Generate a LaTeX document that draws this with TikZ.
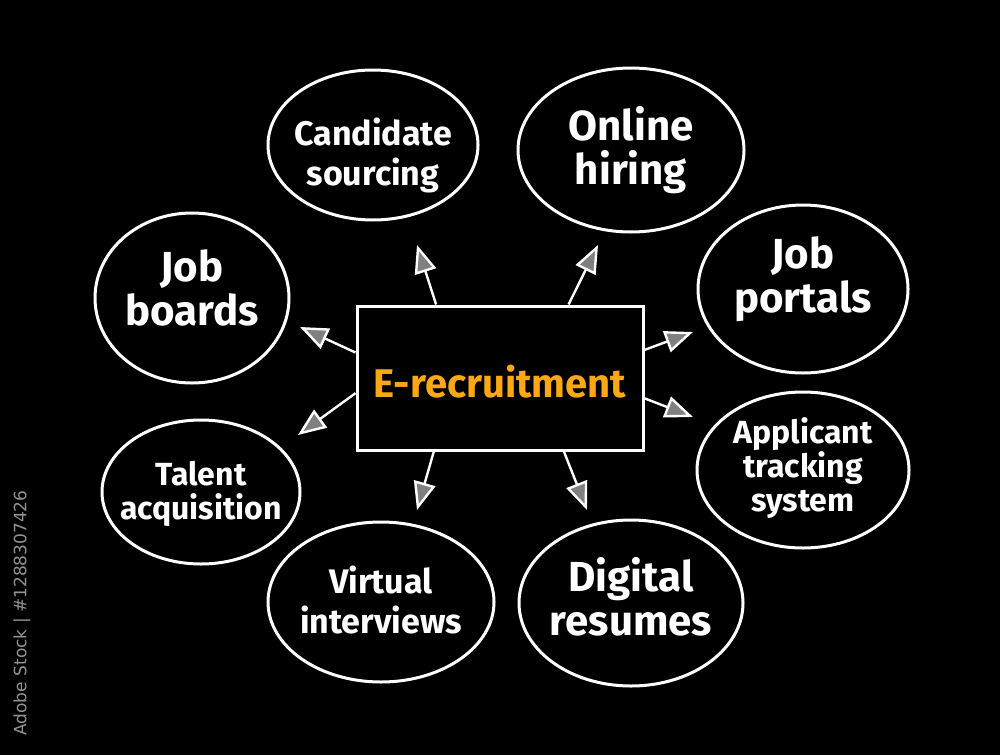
\documentclass[tikz,border=0pt]{standalone}
\usepackage{fontspec}
\setmainfont{Fira Sans}
\newfontfamily\markfont{DejaVu Sans}
\usetikzlibrary{shapes.geometric}
\usetikzlibrary{arrows.meta}

\definecolor{hubtext}{RGB}{250,168,20}

\begin{document}
\begin{tikzpicture}[x=0.5pt, y=-0.5pt,
 bubble/.style={draw=white, line width=1.5pt, ellipse, inner sep=0pt},
 bigtext/.style={text=white, align=center, font=\bfseries\fontsize{21}{22}\selectfont},
 midtext/.style={text=white, align=center, font=\bfseries\fontsize{17}{20}\selectfont},
 smalltext/.style={text=white, align=center, font=\bfseries\fontsize{16}{17}\selectfont},
 spoke/.style={white, line width=1.2pt, -{Triangle[length=14pt, width=11pt, line width=1.2pt, fill=black!50!white]}}]
\fill[black] (0,0) rectangle (1000,755);
\useasboundingbox (0,0) rectangle (1000,755);
\node[rotate=90, text=gray!85, font=\markfont\fontsize{8.5}{8.5}\selectfont] (mark) at (22,613) {Adobe Stock | \#1288307426};

\node[draw=white, line width=1.5pt, minimum width=143pt, minimum height=72pt] (hub) at (500,378) {};
\node[text=hubtext, font=\bfseries\fontsize{20}{20}\selectfont] (hubtxt) at (500,382) {E-recruitment};

\foreach \n/\x/\y/\w/\h in {cand/373/145/105/75, hire/631/150/113/82, boards/192/298/97/85,
 portals/803/289/105/84, talent/201/492/99/72, ats/803/470/106/78,
 virt/381/602/113/80, resume/631/603/112/83} {
 \node[bubble, minimum width=\w pt, minimum height=\h pt] (\n) at (\x,\y) {};
}
\node[midtext] at ([yshift=-5pt]cand) {Candidate\\sourcing};
\node[bigtext] at (hire) {Online\\hiring};
\node[bigtext] at ([yshift=5pt]boards) {Job\\boards};
\node[bigtext] at ([yshift=5pt]portals) {Job\\portals};
\node[smalltext] at ([yshift=-1pt]talent) {Talent\\acquisition};
\node[smalltext] at ([yshift=1pt]ats) {Applicant\\tracking\\system};
\node[midtext] at ([yshift=1pt]virt) {Virtual\\interviews};
\node[bigtext] at ([yshift=3pt]resume) {Digital\\resumes};

\foreach \a/\n/\x/\y in {131/1/417/245, 47/2/598/245, 170/3/300/327, 186/4/298/435,
 11/5/693/332, -8/6/693/417, 228/7/417/510, 311/8/587/510} {
 \coordinate (tip\n) at (\x,\y);
 \draw[spoke] (hub.\a) -- (tip\n);
}
\end{tikzpicture}
\end{document}
